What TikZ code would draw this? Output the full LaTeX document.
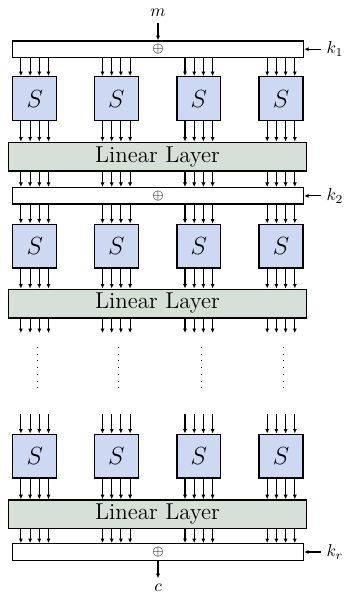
\documentclass[tikz,border=0pt]{standalone}
\usepackage{amsmath}
\usetikzlibrary{arrows.meta,positioning,calc}
\definecolor{SFill}{HTML}{CDD8F3}
\definecolor{LinFill}{HTML}{D6E0D6}

\tikzset{
  sbox/.style={draw,thick,fill=SFill,minimum width=25.5pt,minimum height=25.5pt,inner sep=0pt,font=\fontsize{13.3}{16}\selectfont},
  linlayer/.style={draw,thick,fill=LinFill,minimum width=173.1pt,minimum height=16.6pt,inner sep=0pt,font=\fontsize{13.3}{16}\selectfont},
  xorbar/.style={draw,thick,fill=white,minimum width=168.8pt,minimum height=9.6pt,inner sep=0pt,font=\footnotesize},
  wire/.style={-{Latex[length=2.6pt,width=2.4pt]},semithick},
  ellip/.style={line width=0.6pt,dash pattern=on 0.6pt off 3.3pt},
}

\begin{document}
\begin{tikzpicture}[x=0.58pt,y=-0.58pt]
  \useasboundingbox (0,0) rectangle (348,594);
  % key additions
  \node[xorbar] (x1) at (158,49.2) {$\oplus$};
  \node[xorbar] (x2) at (158,195.9) {$\oplus$};
  \node[xorbar] (x3) at (158,552) {$\oplus$};
  % linear layers
  \node[linlayer] (l1) at (157.5,156.6) {Linear Layer};
  \node[linlayer] (l2) at (157.5,303.5) {Linear Layer};
  \node[linlayer] (l3) at (157.5,514.2) {Linear Layer};
  % plaintext, keys, ciphertext
  \node (m) at (158,13) {$m$};
  \node (k1) at (335,49.2) {$k_1$};
  \node (k2) at (335,195.9) {$k_2$};
  \node (kr) at (335,552) {$k_r$};
  \node (c) at (158,588) {$c$};
  \draw[wire] (m) -- (x1);
  \draw[wire] (k1) -- (x1);
  \draw[wire] (k2) -- (x2);
  \draw[wire] (kr) -- (x3);
  \draw[wire] (x3) -- (c);
  % s-boxes
  \foreach \i/\x in {1/34.7,2/116.3,3/198.8,4/281} {
    \node[sbox] (sa\i) at (\x,98.7) {$S$};
    \node[sbox] (sb\i) at (\x,246.2) {$S$};
    \node[sbox] (sc\i) at (\x,456.2) {$S$};
    \coordinate (ta\i) at (\x,333);
    \coordinate (tb\i) at (\x,414);
    \draw[ellip] ($(ta\i)+(2.5,14)$) -- ($(ta\i)+(2.5,59)$);
  }
  % wires
  \foreach \i in {1,...,4} {
    \foreach \d in {-13.8,-4.6,4.6,13.8} {
      \coordinate (p) at ($(sa\i)+(\d,0)$);
      \draw[wire] (x1.south -| p) -- (sa\i.north -| p);
      \draw[wire] (sa\i.south -| p) -- (l1.north -| p);
      \draw[wire] (l1.south -| p) -- (x2.north -| p);
      \draw[wire] (x2.south -| p) -- (sb\i.north -| p);
      \draw[wire] (sb\i.south -| p) -- (l2.north -| p);
      \draw[wire] (l2.south -| p) -- (ta\i -| p);
      \draw[wire] (tb\i -| p) -- (sc\i.north -| p);
      \draw[wire] (sc\i.south -| p) -- (l3.north -| p);
      \draw[wire] (l3.south -| p) -- (x3.north -| p);
    }
  }
\end{tikzpicture}
\end{document}
